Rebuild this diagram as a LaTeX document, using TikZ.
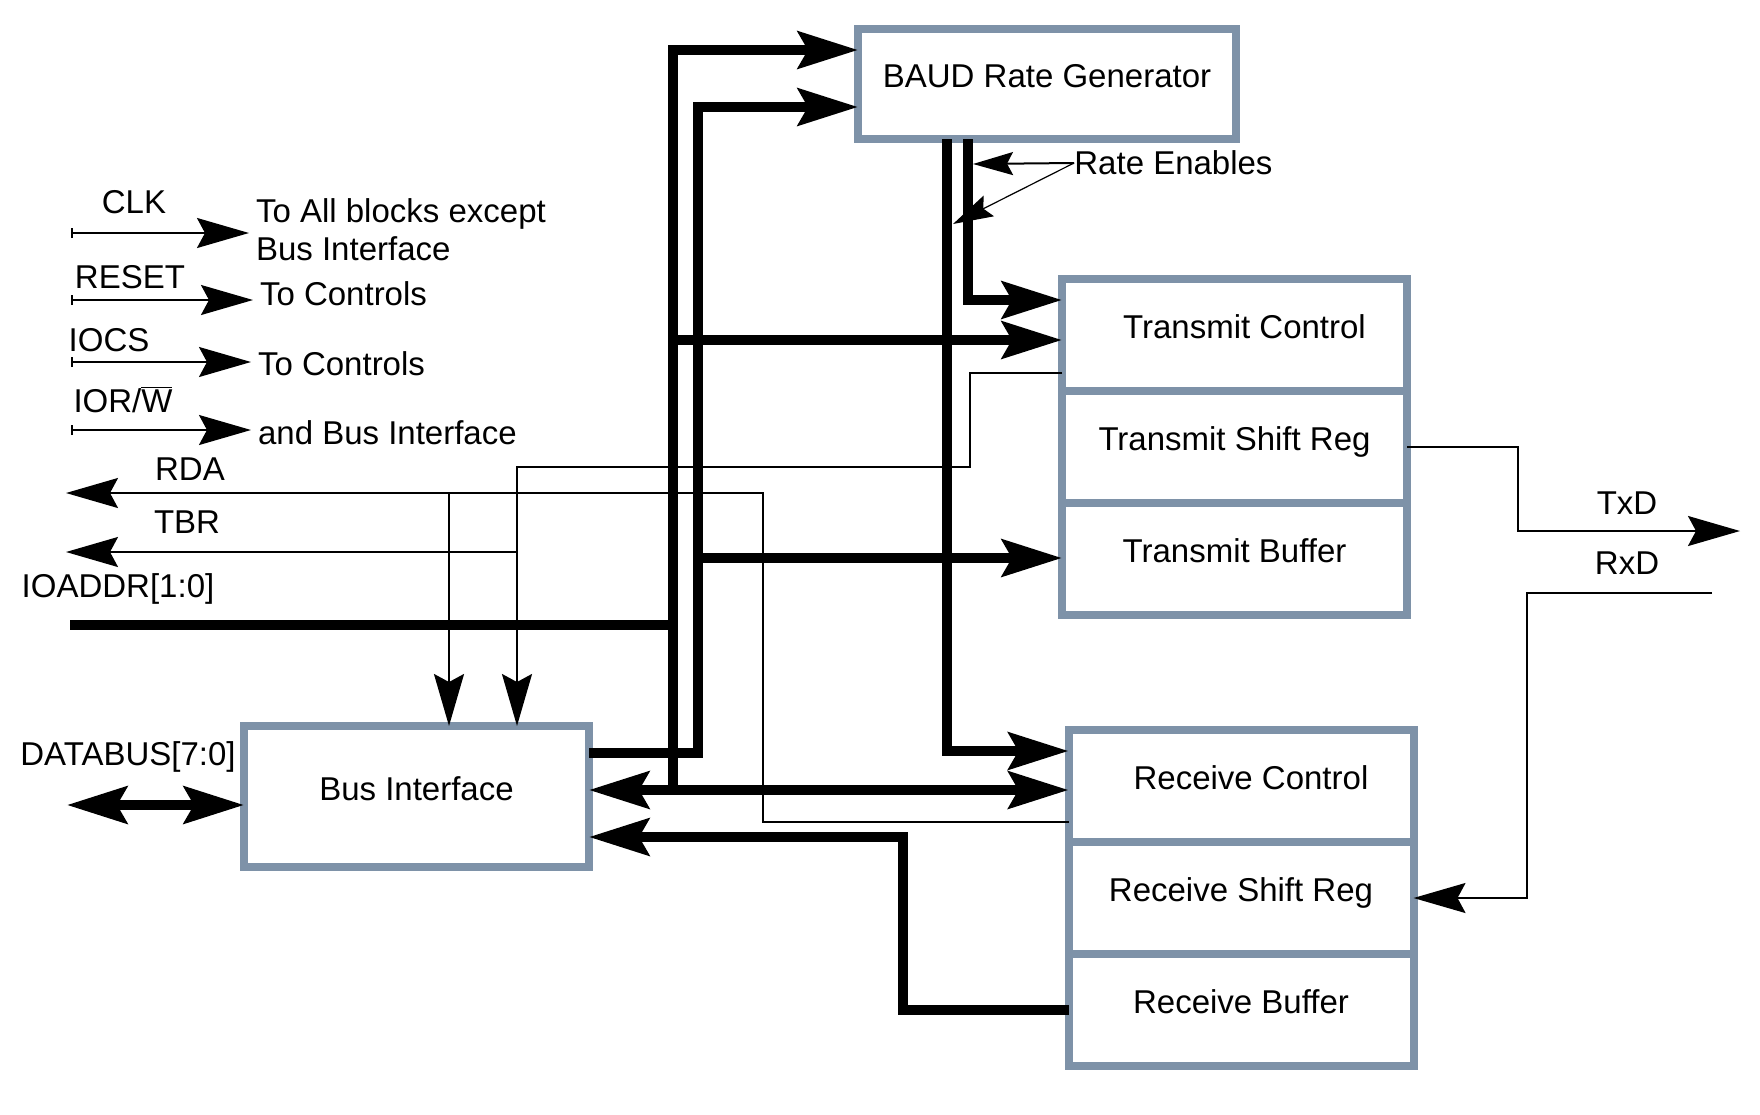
\documentclass[tikz,border=0pt]{standalone}
\usepackage{fontspec}
\setmainfont{Liberation Sans}
\usepackage{tikz}
\usetikzlibrary{arrows.meta,positioning}
\definecolor{UartBoxColor}{RGB}{126,146,168}

\begin{document}
\begin{tikzpicture}[x=0.5pt,y=-0.5pt,font=\fontsize{16.5}{19}\selectfont,
  blk/.style={draw=UartBoxColor,line width=4pt,fill=white,minimum width=172.5pt,minimum height=56pt,outer sep=0pt,text height=8pt,text depth=4.2pt},
  sig/.style={line width=1pt},
  bus/.style={line width=5pt},
  sigtip/.tip={Stealth[length=26pt,width=15pt,inset=4pt]},
  bustip/.tip={Stealth[length=30pt,width=18.5pt,inset=5pt]},
  smalltip/.tip={Stealth[length=20pt,width=11.5pt,inset=3pt]}]
\useasboundingbox (0,0) rectangle (1760,1114);
% blocks
\node[blk,minimum width=189pt,minimum height=55pt] (baud) at (1047,84) {BAUD Rate Generator};
\node[blk] (tc) at (1234.5,335) {\hspace*{10pt}Transmit Control};
\node[blk,below=0pt of tc] (tsr) {Transmit Shift Reg};
\node[blk,below=0pt of tsr] (tb) {Transmit Buffer};
\node[blk] (rc) at (1241,786) {\hspace*{10pt}Receive Control};
\node[blk,below=0pt of rc] (rsr) {Receive Shift Reg};
\node[blk,below=0pt of rsr] (rb) {Receive Buffer};
\node[blk,minimum height=70.5pt] (bi) at (416.5,796.5) {Bus Interface};
% inputs
\foreach \n/\lab/\lx/\ly/\ay/\dx/\dy/\dest in %
{clk/CLK/134/202/233/249/230/{To All blocks except\\Bus Interface},
 rst/RESET/130/277/300/253/294/To Controls,
 iocs/IOCS/109/340/362/251/364/To Controls,
 iorw/{IOR/$\smash{\overline{\hbox{W}}}$}/123/401/430/251/433/and Bus Interface} {
   \node (\n lab) at (\lx,\ly) {\lab};
   \node[anchor=west,align=left] (\n to) at (\dx,\dy) {\dest};
   \coordinate (\n in) at (71,\ay);
   \draw[sig,{Bar[width=5pt]}-{sigtip}] (\n in) -- (\n in -| \n to.west);
}
% RDA and TBR
\node (rdalab) at (190,469) {RDA};
\coordinate (rdaout) at (66,493);
\coordinate (rdatap) at (449,493);
\draw[sig,-{sigtip}] ([yshift=-18pt]rc.west) -| (763,493) -- (rdaout);
\draw[sig,-{sigtip}] (rdatap) -- (bi.north -| rdatap);
\node (tbrlab) at (187,522) {TBR};
\coordinate (tbrout) at (66,552);
\coordinate (tbrtap) at (517,552);
\draw[sig,-{sigtip}] ([yshift=-19pt]tc.west) -| (970,467) -| (bi.north -| tbrtap);
\draw[sig,-{sigtip}] (tbrtap) -- (tbrout);
% address and data buses
\node (addrlab) at (118,589) {IOADDR[1:0]};
\coordinate (addrin) at (70,625);
\draw[bus] (addrin) -- (673,625);
\node (dbuslab) at (128,757) {DATABUS[7:0]};
\coordinate (dbusend) at (67,805);
\draw[bus,{bustip}-{bustip}] (dbusend) -- (bi.west |- dbusend);
% internal buses
\draw[bus,-{bustip}] (673,790) |- ([yshift=17pt]baud.west);
\draw[bus,-{bustip}] ([yshift=21.75pt]bi.east) -| (698,107) -- ([yshift=-11.5pt]baud.west);
\draw[bus,-{bustip}] (673,340) -- (tc.west |- 0,340);
\draw[bus,-{bustip}] (698,558) -- (tb.west |- 0,558);
\draw[bus,{bustip}-{bustip}] (bi.east |- 0,790) -- (rc.west |- 0,790);
\draw[bus,-{bustip}] (rb.west) -| (903,837) -- (bi.east |- 0,837);
\draw[bus,-{bustip}] (baud.south -| 947,0) |- (rc.west |- 0,751);
\draw[bus,-{bustip}] (baud.south -| 968,0) |- (tc.west |- 0,300);
% rate enables
\node[anchor=west,inner sep=0pt] (rate) at (1074,163) {Rate Enables};
\coordinate (rten1) at (973,164);
\coordinate (rten2) at (953,224);
\draw[sig,-{smalltip}] (rate.west) -- (rten1);
\draw[sig,line width=0.6pt,-{smalltip}] (rate.west) -- (rten2);
% serial lines
\node (txdlab) at (1627,503) {TxD};
\node (rxdlab) at (1627,563) {RxD};
\coordinate (txdout) at (1740,531);
\coordinate (rxdin) at (1712,593);
\draw[sig,-{sigtip}] (tsr.east) -- (1518,447) |- (txdout);
\draw[sig,-{sigtip}] (rxdin) -| (rsr.east -| 1527,0) -- (rsr.east);
\end{tikzpicture}
\end{document}
